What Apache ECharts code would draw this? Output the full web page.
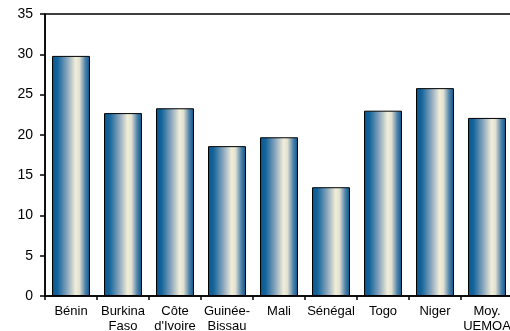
<!DOCTYPE html>
<html>
<head>
<meta charset="utf-8">
<script src="https://cdn.jsdelivr.net/npm/echarts@6/dist/echarts.min.js"></script>
<style>html,body{margin:0;padding:0;background:#fff}#c{width:510px;height:331px}</style>
</head>
<body>
<div id="c"></div>
<script>
const categories = ["Bénin", "Burkina\nFaso", "Côte\nd'Ivoire", "Guinée-\nBissau", "Mali", "Sénégal", "Togo", "Niger", "Moy.\nUEMOA"];
const values = [29.8, 22.7, 23.3, 18.6, 19.7, 13.5, 23.0, 25.8, 22.1];
const yTicks = { min: 0, max: 35, interval: 5 };

const chart = echarts.init(document.getElementById('c'));
const barGradient = new echarts.graphic.LinearGradient(0, 0, 1, 0, [
  { offset: 0, color: '#045891' },
  { offset: 0.15, color: '#16659b' },
  { offset: 0.4, color: '#8aa6bd' },
  { offset: 0.62, color: '#f1edd8' },
  { offset: 0.72, color: '#e3e2d2' },
  { offset: 0.88, color: '#4c80a9' },
  { offset: 1, color: '#03568e' }
]);
chart.setOption({
  animation: false,
  grid: { left: 45, top: 14, width: 468, bottom: 35, containLabel: false, outerBoundsMode: 'none', show: true, borderColor: '#000', borderWidth: 1.5, backgroundColor: 'transparent' },
  xAxis: {
    type: 'category',
    data: categories,
    axisLine: { lineStyle: { color: '#000', width: 1.5 } },
    axisTick: { show: true, length: 4, lineStyle: { color: '#000', width: 1.5 } },
    axisLabel: { color: '#000', fontFamily: 'Liberation Sans, Arial', fontSize: 13, lineHeight: 15, margin: 8, interval: 0 }
  },
  yAxis: {
    type: 'value',
    min: yTicks.min, max: yTicks.max, interval: yTicks.interval,
    splitLine: { show: false },
    axisLine: { show: true, lineStyle: { color: '#000', width: 1.5 } },
    axisTick: { show: true, length: 5, lineStyle: { color: '#000', width: 1.5 } },
    axisLabel: { color: '#000', fontFamily: 'Liberation Sans, Arial', fontSize: 14, margin: 12 }
  },
  series: [{
    type: 'bar',
    data: values,
    barCategoryGap: '27%',
    itemStyle: { color: barGradient, borderColor: '#000', borderWidth: 1 }
  }]
});
</script>
</body>
</html>
